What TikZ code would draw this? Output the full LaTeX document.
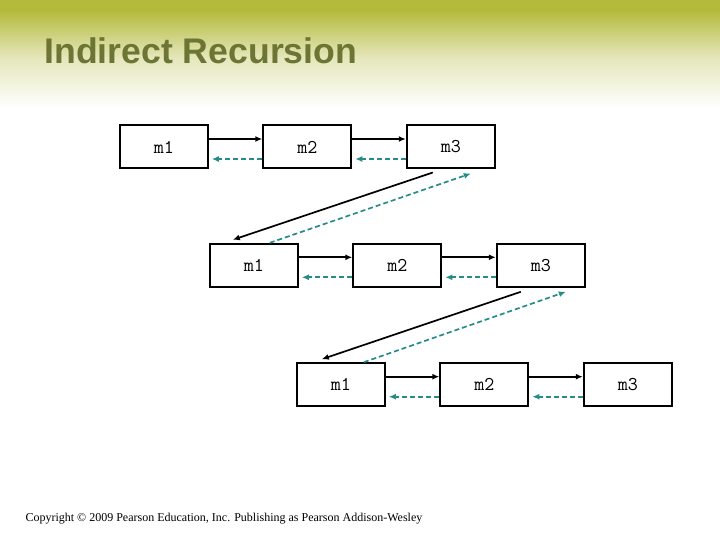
\documentclass[tikz,border=0pt]{standalone}
\usepackage{fontspec}
\setmainfont{Liberation Serif}
\newfontfamily\titlefont{Liberation Sans}
\usetikzlibrary{arrows.meta}
\usetikzlibrary{positioning}
\definecolor{bandolive}{RGB}{180,186,60}
\definecolor{titleolive}{RGB}{108,117,52}
\definecolor{backteal}{RGB}{38,140,138}

\begin{document}
\begin{tikzpicture}[x = 1pt, y = -1pt, node distance = 143.5pt, on grid, method/.style = {rectangle, draw, line width = 2pt, minimum width = 88pt, minimum height = 43pt, font = \ttfamily\fontsize{19.5}{22}\selectfont}, call/.style = {line width = 1.7pt, -{Latex[length = 7pt, width = 6pt]}}, back/.style = {call, backteal, dash pattern = on 5pt off 3pt}]
	\useasboundingbox (0,0) rectangle (720,540);
	\fill[bandolive] (0,0) rectangle (720,10);
	\shade[top color = bandolive, bottom color = bandolive!35!white] (0,10) rectangle (720,58);
	\shade[top color = bandolive!35!white, bottom color = white] (0,58) rectangle (720,108);
	\node[anchor = base west, text = titleolive, font = \titlefont\bfseries\fontsize{35.6}{40}\selectfont] (T) at (41,64) {Indirect Recursion};
	\node[method] (A1) at (163.8,147) {m1};
	\node[method] (A2) [right = of A1] {m2};
	\node[method] (A3) [right = of A2] {m3};
	\node[method] (B1) [below right = 118.3pt and 90pt of A1] {m1};
	\node[method] (B2) [right = of B1] {m2};
	\node[method] (B3) [right = of B2] {m3};
	\node[method] (C1) [below right = 119.4pt and 87pt of B1] {m1};
	\node[method] (C2) [right = of C1] {m2};
	\node[method] (C3) [right = of C2] {m3};
	\draw[call] ([yshift = 8pt]A1.east) -- ([yshift = 8pt]A2.west);
	\draw[call] ([yshift = 8pt]A2.east) -- ([yshift = 8pt]A3.west);
	\draw[back] ([yshift = -12pt]A2.west) -- ([xshift = 3pt, yshift = -12pt]A1.east);
	\draw[back] ([yshift = -12pt]A3.west) -- ([xshift = 3pt, yshift = -12pt]A2.east);
	\draw[call] ([xshift = -18pt, yshift = -3pt]A3.south) -- ([xshift = -21pt, yshift = 3pt]B1.north);
	\draw[back] ([xshift = 16pt]B1.north) -- ([xshift = 20pt, yshift = -4pt]A3.south);
	\draw[call] ([yshift = 8pt]B1.east) -- ([yshift = 8pt]B2.west);
	\draw[call] ([yshift = 8pt]B2.east) -- ([yshift = 8pt]B3.west);
	\draw[back] ([yshift = -12pt]B2.west) -- ([xshift = 3pt, yshift = -12pt]B1.east);
	\draw[back] ([yshift = -12pt]B3.west) -- ([xshift = 3pt, yshift = -12pt]B2.east);
	\draw[call] ([xshift = -20pt, yshift = -4pt]B3.south) -- ([xshift = -19pt, yshift = 3pt]C1.north);
	\draw[back] ([xshift = 23pt]C1.north) -- ([xshift = 25pt, yshift = -4pt]B3.south);
	\draw[call] ([yshift = 8pt]C1.east) -- ([yshift = 8pt]C2.west);
	\draw[call] ([yshift = 8pt]C2.east) -- ([yshift = 8pt]C3.west);
	\draw[back] ([yshift = -12pt]C2.west) -- ([xshift = 3pt, yshift = -12pt]C1.east);
	\draw[back] ([yshift = -12pt]C3.west) -- ([xshift = 3pt, yshift = -12pt]C2.east);
	\node[anchor = base west, font = \fontsize{12}{14}\selectfont] (Copy) at (22,521) {Copyright © 2009 Pearson Education, Inc. Publishing as Pearson Addison-Wesley};
\end{tikzpicture}
\end{document}
